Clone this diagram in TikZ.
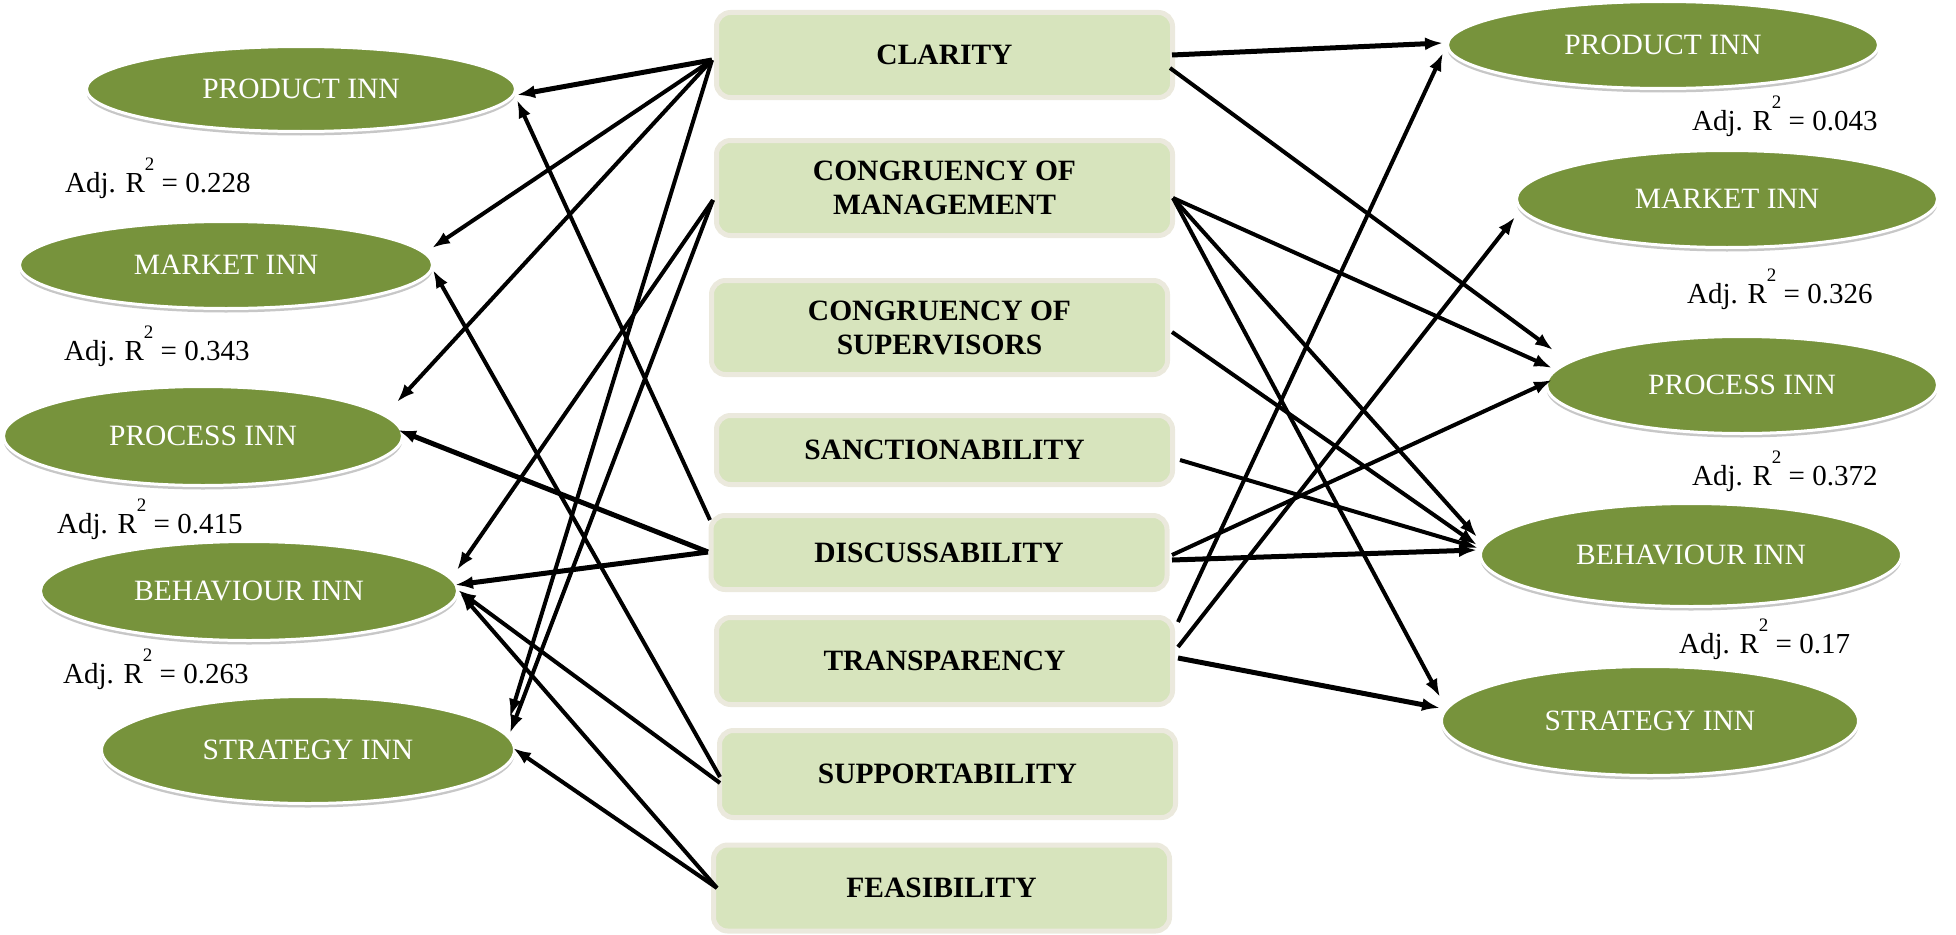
\documentclass[tikz,border=0pt]{standalone}
\usepackage{fontspec}
\setmainfont{Liberation Serif}
\usetikzlibrary{shapes.geometric,shadows,arrows.meta}
\definecolor{olivefill}{HTML}{77933C}
\definecolor{boxfill}{HTML}{D7E4BD}
\definecolor{boxline}{HTML}{EBE9DD}
\newcommand{\rsq}{R\raisebox{22pt}{\fontsize{19}{19}\selectfont 2}}
\tikzset{
 ell/.style={ellipse, fill=olivefill, draw=white, line width=3pt, inner sep=0pt, text=white,
   font=\fontsize{29.5}{34}\selectfont,
   drop shadow={shadow xshift=0pt, shadow yshift=-4pt, fill=black, opacity=0.22}},
 cbox/.style={rectangle, rounded corners=14pt, fill=boxfill, draw=boxline, line width=5pt,
   inner sep=0pt, align=center, font=\fontsize{29.5}{34}\selectfont\bfseries, minimum width=456pt},
 arr/.style={-{Latex[length=18pt,width=13pt]}, line width=4pt, black},
 arrb/.style={arr, line width=5pt},
 adj/.style={anchor=base west, inner sep=0pt, font=\fontsize{29}{34}\selectfont},
}
\begin{document}
\begin{tikzpicture}[x=1pt,y=-1pt]
\useasboundingbox (0,0) rectangle (1956,934);
% Adj R2 labels
\node[adj] (a1) at (65,192) {Adj. \rsq{} = 0.228};
\node[adj] (a2) at (64,360) {Adj. \rsq{} = 0.343};
\node[adj] (a3) at (57,533) {Adj. \rsq{} = 0.415};
\node[adj] (a4) at (63,683) {Adj. \rsq{} = 0.263};
\node[adj] (b1) at (1692,130) {Adj. \rsq{} = 0.043};
\node[adj] (b2) at (1687,303) {Adj. \rsq{} = 0.326};
\node[adj] (b3) at (1692,485) {Adj. \rsq{} = 0.372};
\node[adj] (b4) at (1679,653) {Adj. \rsq{} = 0.17};
% left ellipses
\node[ell, minimum width=429pt, minimum height=85pt] (pl) at (301,89) {PRODUCT INN};
\node[ell, minimum width=413pt, minimum height=87pt] (ml) at (226,265) {MARKET INN};
\node[ell, minimum width=399pt, minimum height=99pt] (prl) at (203,436) {PROCESS INN};
\node[ell, minimum width=417pt, minimum height=99pt] (bl) at (249,591) {BEHAVIOUR INN};
\node[ell, minimum width=413pt, minimum height=107pt] (sl) at (308,750) {STRATEGY INN};
% right ellipses
\node[ell, minimum width=431pt, minimum height=87pt] (pr) at (1663,45) {PRODUCT INN};
\node[ell, minimum width=421pt, minimum height=97pt] (mr) at (1727,199) {MARKET INN};
\node[ell, minimum width=391pt, minimum height=97pt] (prr) at (1742,385) {PROCESS INN};
\node[ell, minimum width=421pt, minimum height=103pt] (br) at (1691,555) {BEHAVIOUR INN};
\node[ell, minimum width=417pt, minimum height=109pt] (sr) at (1650,721) {STRATEGY INN};
% central boxes
\node[cbox, minimum height=85pt] (clar) at (944.5,55) {CLARITY};
\node[cbox, minimum height=95pt] (cmg) at (944.5,188) {CONGRUENCY OF\\MANAGEMENT};
\node[cbox, minimum height=94pt] (csu) at (939.5,327.5) {CONGRUENCY OF\\SUPERVISORS};
\node[cbox, minimum height=69pt] (san) at (944.5,450) {SANCTIONABILITY};
\node[cbox, minimum height=74pt] (dis) at (939,552.5) {DISCUSSABILITY};
\node[cbox, minimum height=87pt] (tra) at (944.5,661) {TRANSPARENCY};
\node[cbox, minimum height=87pt] (sup) at (947.5,774) {SUPPORTABILITY};
\node[cbox, minimum height=86pt] (fea) at (941.5,888) {FEASIBILITY};
% left arrows
\draw[arrb] ([shift={(-232.5,5)}]clar.center) -- ([shift={(216,6)}]pl.center);
\draw[arr] ([shift={(-232.5,5)}]clar.center) -- ([shift={(206,-17)}]ml.center);
\draw[arr] ([shift={(-232.5,5)}]clar.center) -- ([shift={(194,-34)}]prl.center);
\draw[arr] ([shift={(-232.5,5)}]clar.center) -- ([shift={(202,-33)}]sl.center);
\draw[arr] ([shift={(-231.5,12)}]cmg.center) -- ([shift={(208,-21)}]bl.center);
\draw[arr] ([shift={(-231.5,12)}]cmg.center) -- ([shift={(202,-17)}]sl.center);
\draw[arr] ([shift={(-229,-32.5)}]dis.center) -- ([shift={(216,11)}]pl.center);
\draw[arrb] ([shift={(-231,-0.5)}]dis.center) -- ([shift={(195,-6)}]prl.center);
\draw[arrb] ([shift={(-231,-0.5)}]dis.center) -- ([shift={(206,-6)}]bl.center);
\draw[arr] ([shift={(-227.5,3)}]sup.center) -- ([shift={(207,5)}]ml.center);
\draw[arr] ([shift={(-227.5,9)}]sup.center) -- ([shift={(209,-1)}]bl.center);
\draw[arr] ([shift={(-224.5,0)}]fea.center) -- ([shift={(211,2)}]bl.center);
\draw[arr] ([shift={(-224.5,0)}]fea.center) -- ([shift={(205,-2)}]sl.center);
% right arrows
\draw[arrb] ([shift={(227.5,0)}]clar.center) -- ([shift={(-220,-2)}]pr.center);
\draw[arr] ([shift={(225.5,13)}]clar.center) -- ([shift={(-189,-35)}]prr.center);
\draw[arr] ([shift={(228.5,10)}]cmg.center) -- ([shift={(-190,-17)}]prr.center);
\draw[arr] ([shift={(228.5,10)}]cmg.center) -- ([shift={(-214,-18)}]br.center);
\draw[arr] ([shift={(228.5,10)}]cmg.center) -- ([shift={(-210,-24)}]sr.center);
\draw[arr] ([shift={(232.5,4.5)}]csu.center) -- ([shift={(-214,-10)}]br.center);
\draw[arr] ([shift={(235.5,10)}]san.center) -- ([shift={(-213,-7)}]br.center);
\draw[arr] ([shift={(233,2.5)}]dis.center) -- ([shift={(-190,-5)}]prr.center);
\draw[arrb] ([shift={(233,7.5)}]dis.center) -- ([shift={(-214,-5)}]br.center);
\draw[arr] ([shift={(233.5,-39)}]tra.center) -- ([shift={(-220,8)}]pr.center);
\draw[arr] ([shift={(233.5,-14)}]tra.center) -- ([shift={(-212,18)}]mr.center);
\draw[arrb] ([shift={(233.5,-3)}]tra.center) -- ([shift={(-210,-13)}]sr.center);
\end{tikzpicture}
\end{document}
